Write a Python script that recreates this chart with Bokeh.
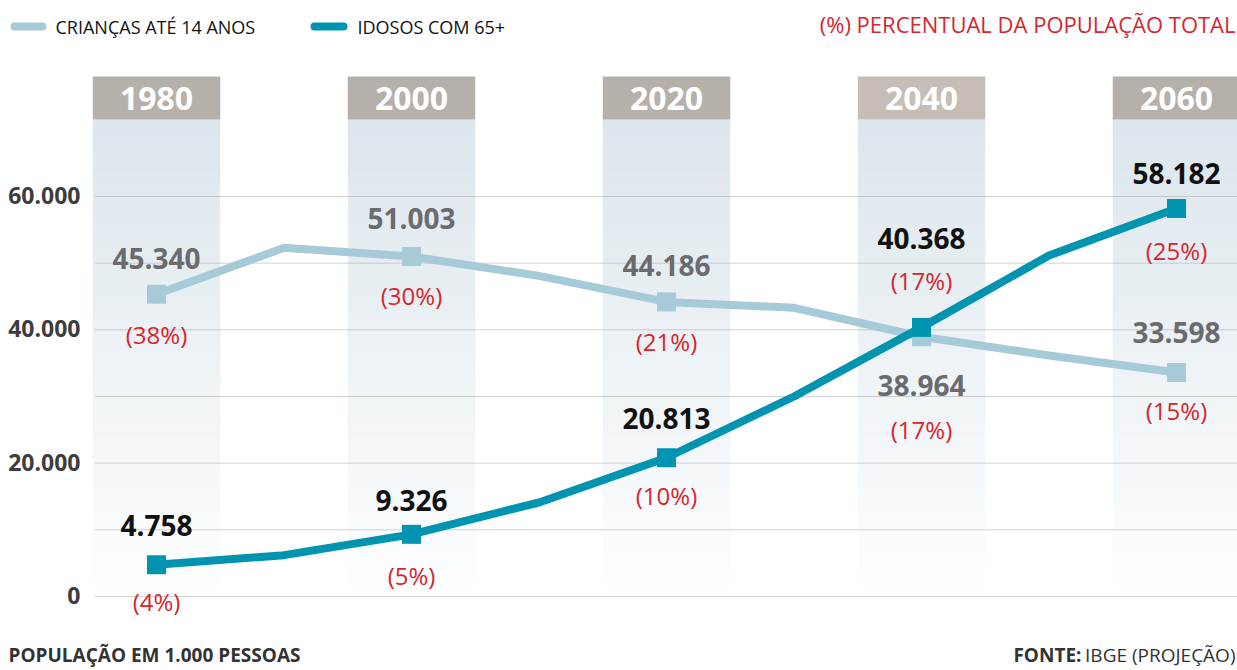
import numpy as np
from bokeh.plotting import figure
from bokeh.models import Range1d, Label, ColumnDataSource
from bokeh.core.properties import value
from bokeh.embed import file_html
from bokeh.resources import INLINE

# ---------------- data ----------------
years = [1980, 1990, 2000, 2010, 2020, 2030, 2040, 2050, 2060]
criancas = [45340, 52300, 51003, 48100, 44186, 43300, 38964, 36150, 33598]
idosos = [4758, 6200, 9326, 14100, 20813, 30000, 40368, 51150, 58182]

marked_years = [1980, 2000, 2020, 2040, 2060]
criancas_marked = [45340, 51003, 44186, 38964, 33598]
idosos_marked = [4758, 9326, 20813, 40368, 58182]
criancas_labels = ["45.340", "51.003", "44.186", "38.964", "33.598"]
idosos_labels = ["4.758", "9.326", "20.813", "40.368", "58.182"]
criancas_pct = ["(38%)", "(30%)", "(21%)", "(17%)", "(15%)"]
idosos_pct = ["(4%)", "(5%)", "(10%)", "(17%)", "(25%)"]

y_ticks = [0, 20000, 40000, 60000]
y_tick_labels = ["0", "20.000", "40.000", "60.000"]
grid_values = [0, 10000, 20000, 30000, 40000, 50000, 60000]

# ---------------- style ----------------
C_LIGHT = "#a6cad8"
C_TEAL = "#0094b0"
C_RED = "#d5262f"
C_GRAY = "#6a6b6e"
FONT = value("Open Sans")
BL = 0.35  # baseline correction (em)

PX_PER_YEAR = 12.75
X0 = 1980 - 156 / PX_PER_YEAR
X1 = X0 + 1237 / PX_PER_YEAR
Y_PER_PX = 150.0
Y0 = -74 * Y_PER_PX
Y1 = 596 * Y_PER_PX

p = figure(width=1237, height=670, x_range=Range1d(X0, X1), y_range=Range1d(Y0, Y1),
           output_backend="svg", toolbar_location=None, min_border=0,
           x_axis_location=None, y_axis_location=None)
p.outline_line_color = None
p.grid.visible = False
p.background_fill_color = "white"
p.border_fill_color = "white"

# ---- gradient bands ----
band_half = 5.0
band_top = 71550
band_bot = 1650
n = 60
edges = np.linspace(band_top, band_bot, n + 1)
top_rgb = np.array([220, 230, 236])
bot_rgb = np.array([253, 254, 255])
lefts, rights, tops, bots, cols = [], [], [], [], []
for yr in marked_years:
    for i in range(n):
        t = i / (n - 1)
        c = top_rgb + (bot_rgb - top_rgb) * t
        lefts.append(yr - band_half)
        rights.append(yr + band_half)
        tops.append(edges[i] + (0 if i == 0 else 200))
        bots.append(edges[i + 1])
        cols.append("#%02x%02x%02x" % tuple(int(round(v)) for v in c))
p.quad(left=lefts, right=rights, top=tops, bottom=bots, fill_color=cols, line_color=None)

# ---- headers ----
head_cols = ["#b5b1aa", "#b5b1aa", "#b5b1aa", "#c6bdb7", "#b5b1aa"]
p.quad(left=[y - band_half for y in marked_years], right=[y + band_half for y in marked_years],
       top=[78000] * 5, bottom=[band_top] * 5, fill_color=head_cols, line_color=None)
p.text(x=marked_years, y=[band_top] * 5, text=[str(y) for y in marked_years],
       text_font=FONT, text_font_style="bold", text_font_size="32px", text_color="white",
       text_align="center", text_baseline="alphabetic", y_offset=-10 - BL * 32)

# ---- grid lines ----
gx0 = X0 + 95 / PX_PER_YEAR
p.segment(x0=[gx0] * len(grid_values), x1=[X1] * len(grid_values), y0=grid_values, y1=grid_values,
          line_color="#a5a5a5", line_width=1, line_dash="1 1")

# ---- y tick labels ----
p.text(x=[X0 + 80 / PX_PER_YEAR] * len(y_ticks), y=y_ticks, text=y_tick_labels,
       text_font=FONT, text_font_style="bold", text_font_size="23px", text_color="#3d3d3d",
       text_align="right", text_baseline="alphabetic", y_offset=7 - BL * 23)

# ---- lines ----
p.line(years, criancas, line_color=C_LIGHT, line_width=8, line_join="round")
p.scatter(marked_years, criancas_marked, marker="square", size=19, fill_color=C_LIGHT, line_color=None)
p.line(years, idosos, line_color=C_TEAL, line_width=8, line_join="round")
p.scatter(marked_years, idosos_marked, marker="square", size=19, fill_color=C_TEAL, line_color=None)

# ---- value labels ----
VS, PS = 28, 24
dv_c = [-26, -28, -27, 59, -30]
dp_c = [49, 47, 48, 101, 46]
dv_i = [-29, -24, -29, -79, -25]
dp_i = [45, 50, 46, -38, 50]
src_c = ColumnDataSource(dict(x=marked_years, y=criancas_marked, t=criancas_labels, p=criancas_pct,
                              dv=[d - BL * VS for d in dv_c], dp=[d - BL * PS for d in dp_c]))
src_i = ColumnDataSource(dict(x=marked_years, y=idosos_marked, t=idosos_labels, p=idosos_pct,
                              dv=[d - BL * VS for d in dv_i], dp=[d - BL * PS for d in dp_i]))
for src, col in ((src_c, C_GRAY), (src_i, "#111111")):
    p.text(x="x", y="y", text="t", y_offset="dv", source=src, text_font=FONT,
           text_font_style="bold", text_font_size="%dpx" % VS, text_color=col,
           text_align="center", text_baseline="alphabetic")
    p.text(x="x", y="y", text="p", y_offset="dp", source=src, text_font=FONT,
           text_font_size="%dpx" % PS, text_color=C_RED,
           text_align="center", text_baseline="alphabetic")

# ---- legend & notes (screen units; frame == canvas) ----
H = 670
ly = Y1 - 26 * Y_PER_PX
p.segment(x0=[X0 + 14 / PX_PER_YEAR], x1=[X0 + 42 / PX_PER_YEAR], y0=[ly], y1=[ly],
          line_color=C_LIGHT, line_width=8, line_cap="round")
p.segment(x0=[X0 + 314 / PX_PER_YEAR], x1=[X0 + 343 / PX_PER_YEAR], y0=[ly], y1=[ly],
          line_color=C_TEAL, line_width=8, line_cap="round")

def lab(text, x, y, size, color, align="left", bold=False):
    p.add_layout(Label(x=x, y=H - (y - BL * size), x_units="screen", y_units="screen", text=text,
                       text_font="Open Sans", text_font_size="%spx" % size, text_color=color,
                       text_font_style="bold" if bold else "normal",
                       text_align=align, text_baseline="alphabetic"))

lab("CRIANÇAS ATÉ 14 ANOS", 55, 33, 18, "#111111")
lab("IDOSOS COM 65+", 357, 33, 18, "#111111")
lab("(%) PERCENTUAL DA POPULAÇÃO TOTAL", 1235, 31, 22, C_RED, align="right")
lab("POPULAÇÃO EM 1.000 PESSOAS", 8, 661, 19, "#333333", bold=True)
lab("IBGE (PROJEÇÃO)", 1235, 661, 19, "#333333", align="right")
lab("FONTE:", 1081, 661, 19, "#333333", align="right", bold=True)

open("out.html", "w").write(file_html(p, INLINE))
